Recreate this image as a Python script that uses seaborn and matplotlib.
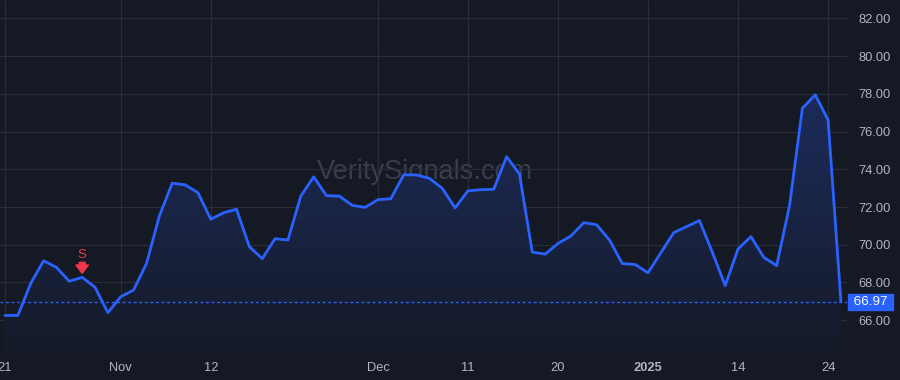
import numpy as np
import pandas as pd
import matplotlib
matplotlib.use("Agg")
import matplotlib.pyplot as plt
import seaborn as sns
from matplotlib.colors import LinearSegmentedColormap
from matplotlib.transforms import offset_copy

# ---- data ----
dates = (
    ["2024-10-21", "2024-10-22", "2024-10-23", "2024-10-24", "2024-10-25",
     "2024-10-28", "2024-10-29", "2024-10-30", "2024-10-31"]
    + ["2024-11-%02d" % d for d in [1, 4, 5, 6, 7, 8, 11, 12, 13, 14, 15, 18, 19, 20, 21, 22, 25, 26, 27, 29]]
    + ["2024-12-%02d" % d for d in [2, 3, 4, 5, 6, 9, 10, 11, 12, 13, 16, 17, 18, 19, 20, 23, 24, 26, 27, 30, 31]]
    + ["2025-01-%02d" % d for d in [2, 3, 6, 7, 8, 10, 13, 14, 15, 16, 17, 21, 22, 23, 24, 27]]
)
values = [66.25, 66.25, 67.95, 69.15, 68.80, 68.06, 68.27, 67.74, 66.40, 67.24,
          67.60, 69.00, 71.52, 73.26, 73.18, 72.76, 71.35, 71.70, 71.88, 69.90,
          69.26, 70.32, 70.25, 72.58, 73.60, 72.60, 72.58, 72.09, 71.98, 72.39,
          72.44, 73.71, 73.70, 73.52, 72.99, 71.95, 72.86, 72.92, 72.94, 74.67,
          73.75, 69.61, 69.50, 70.07, 70.46, 71.17, 71.06, 70.25, 69.00, 68.95,
          68.51, 69.58, 70.64, 70.96, 71.28, 69.60, 67.83, 69.78, 70.43, 69.33,
          68.89, 72.07, 77.24, 77.95, 76.62, 66.97]
tick_dates = ["2024-10-21", "2024-11-01", "2024-11-12", "2024-12-02", "2024-12-11",
              "2024-12-20", "2025-01-02", "2025-01-14", "2025-01-24"]
tick_labels = ["21", "Nov", "12", "Dec", "11", "20", "2025", "14", "24"]
y_ticks = [66, 68, 70, 72, 74, 76, 78, 80, 82]
signal_date = "2024-10-29"
signal_label = "S"
watermark = "VeritySignals.com"

df = pd.DataFrame({"date": dates, "value": values})
df["idx"] = np.arange(len(df))

# ---- style ----
BG = "#151924"
GRID = "#2a2e39"
TXT = "#b2b5be"
LINE = "#2962ff"
RED = "#f23645"

sns.set_theme(style="dark")
plt.rcParams["font.family"] = ["Liberation Sans", "DejaVu Sans"]

fig = plt.figure(figsize=(9, 3.8), dpi=100, facecolor=BG)
ax = fig.add_axes([0, 28 / 380, 847 / 900, 352 / 380])
ax.set_facecolor(BG)

x = df["idx"].values
y = df["value"].values
ymin, ymax = 64.31, 82.98
xmin, xmax = -0.39, 65.47

# gradient fill under the line
poly = ax.fill_between(x, y, ymin, color="none", lw=0)
cmap = LinearSegmentedColormap.from_list("g", ["#161b29", "#1c2b5a"])
grad = np.linspace(0, 1, 256).reshape(-1, 1)
im = ax.imshow(grad, extent=[x.min(), x.max(), ymin, y.max()], aspect="auto",
               origin="lower", cmap=cmap, zorder=1)
im.set_clip_path(poly.get_paths()[0], transform=ax.transData)

sns.lineplot(data=df, x="idx", y="value", ax=ax, color=LINE, lw=2, zorder=3)

# last value dotted line + label
last = values[-1]
ax.axhline(last, color=LINE, lw=1, linestyle=(0, (2, 2)), zorder=2)
ax.annotate(f" {last:.2f} ", xy=(1, last), xycoords=ax.get_yaxis_transform(),
            xytext=(3, 0), textcoords="offset pixels", ha="left", va="center",
            color="white", fontsize=9.6, annotation_clip=False,
            bbox=dict(boxstyle="square,pad=0.15", fc=LINE, ec=LINE))

# signal marker
si = dates.index(signal_date)
sv = values[si]
ax.annotate(signal_label, xy=(si, sv), xytext=(0, 22), textcoords="offset pixels",
            ha="center", va="center", color=RED, fontsize=9.5, zorder=5)
tip = offset_copy(ax.transData, fig=fig, x=0, y=4, units="dots")
tail = offset_copy(ax.transData, fig=fig, x=0, y=15, units="dots")
ax.annotate("", xy=(si, sv), xycoords=tip, xytext=(si, sv), textcoords=tail,
            arrowprops=dict(arrowstyle="simple,head_length=0.5,head_width=0.75,tail_width=0.35",
                            color=RED, shrinkA=0, shrinkB=0), zorder=5)

# watermark
ax.text(0.502, 0.511, watermark, transform=ax.transAxes, ha="center", va="center",
        fontsize=19.5, color="#3a3e4a", zorder=0.5)

# axes
ax.set_xlim(xmin, xmax)
ax.set_ylim(ymin, ymax)
ax.set_xticks([dates.index(d) for d in tick_dates])
ax.set_xticklabels(tick_labels)
for lab in ax.get_xticklabels():
    if lab.get_text() == "2025":
        lab.set_fontweight("bold")
ax.set_yticks(y_ticks)
ax.set_yticklabels([f"{v:.2f}" for v in y_ticks])
ax.yaxis.tick_right()
ax.tick_params(axis="y", length=0, pad=8, colors=TXT, labelsize=9.3)
ax.tick_params(axis="x", length=0, pad=7, colors=TXT, labelsize=9.3)
ax.grid(True, color=GRID, lw=0.8)
ax.set_axisbelow(True)
for s in ax.spines.values():
    s.set_visible(False)
ax.set_xlabel("")
ax.set_ylabel("")

fig.savefig("out.png", dpi=100, facecolor=BG)
